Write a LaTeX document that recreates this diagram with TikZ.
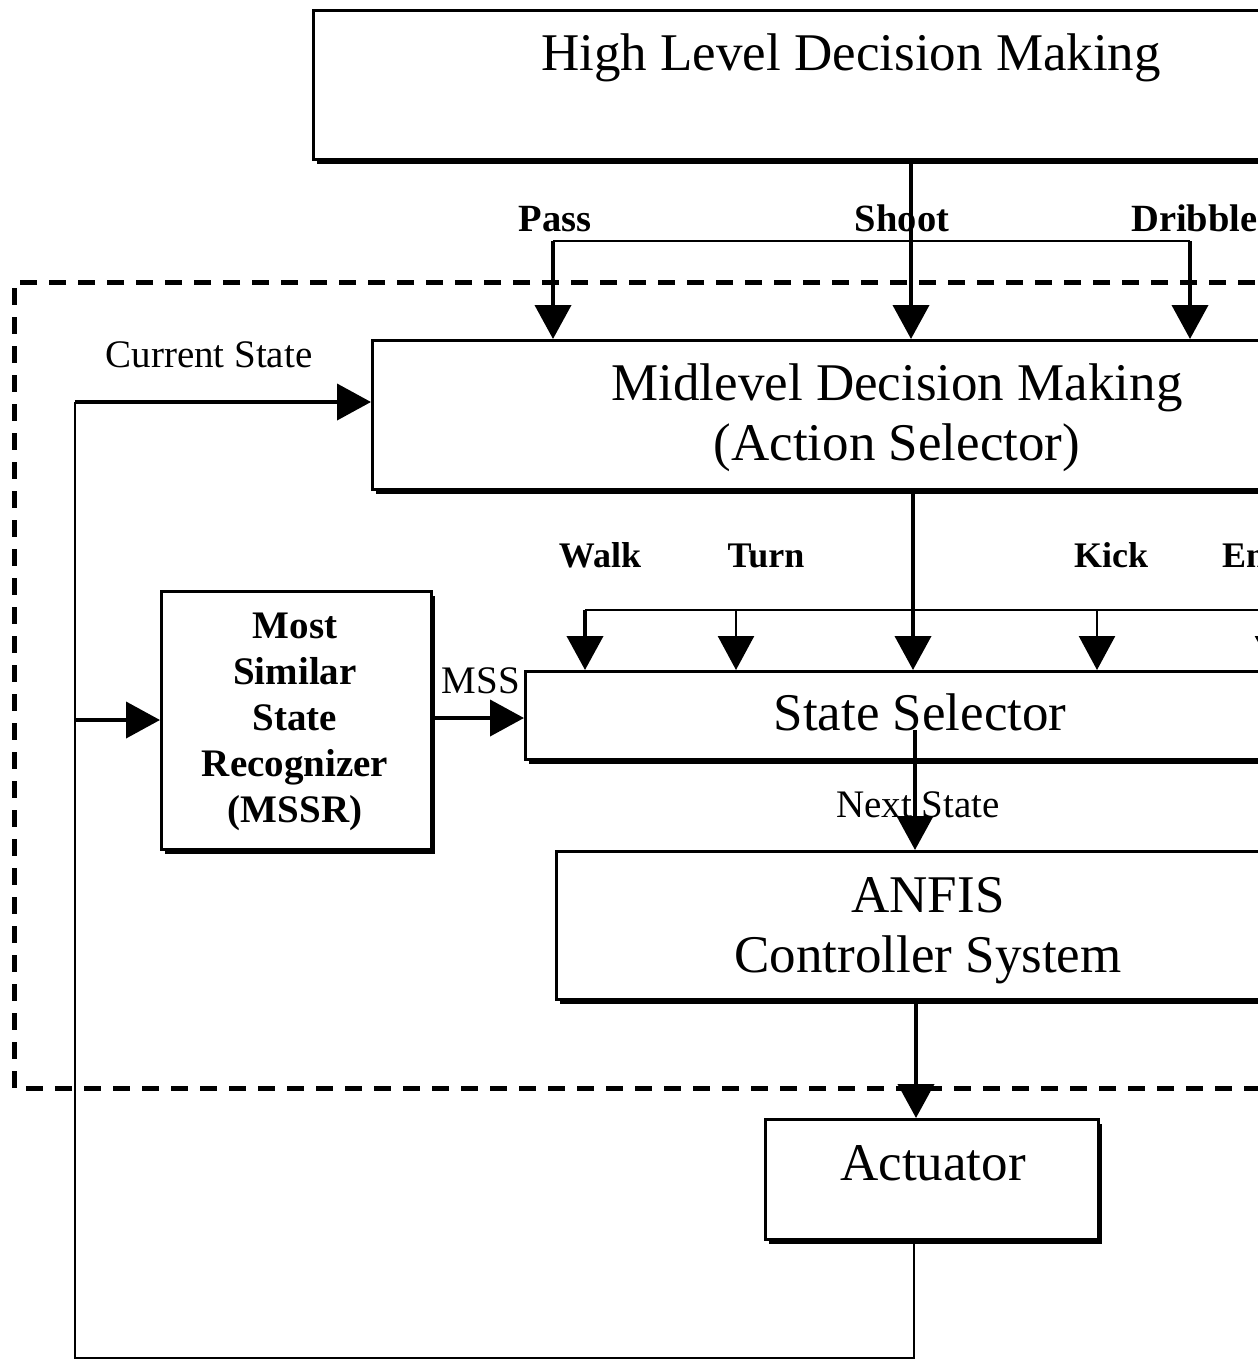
\documentclass[tikz,border=0pt]{standalone}
\usepackage{fontspec}
\setmainfont{Liberation Serif}
\usetikzlibrary{arrows.meta,shadows}
\begin{document}
\begin{tikzpicture}[x=1pt,y=-1pt,
  box/.style={draw, line width=2.5pt, fill=white, anchor=north west, inner sep=0pt,
    drop shadow={shadow xshift=4pt, shadow yshift=-5pt, opacity=1, fill=black}},
  big/.style={font=\fontsize{53}{60}\selectfont, anchor=base, inner sep=0pt},
  lab/.style={font=\fontsize{39}{44}\selectfont, anchor=base, inner sep=0pt},
  blab/.style={font=\bfseries\fontsize{36}{42}\selectfont, anchor=base, inner sep=0pt},
  tlab/.style={font=\bfseries\fontsize{38.5}{42}\selectfont, anchor=base, inner sep=0pt},
  mlab/.style={font=\bfseries\fontsize{39}{46}\selectfont, anchor=base, inner sep=0pt},
  tip/.style={-{Triangle[length=34pt,width=36pt]}},
  thick4/.style={line width=4pt},
  thin2/.style={line width=2.5pt},
  frame/.style={line width=5pt, dash pattern=on 17pt off 12pt}
]
\useasboundingbox (0,0) rectangle (1258,1360);
\clip (0,0) rectangle (1258,1360);
\fill[white] (0,0) rectangle (1258,1360);

% dashed frame
\draw[frame] (1400,282) -- (14,282) -- (14,1088) -- (1400,1088);

% boxes
\node[box, minimum width=1200pt, minimum height=149pt] (hl) at (312,9) {};
\node[box, minimum width=1200pt, minimum height=149pt] (mid) at (371,339) {};
\node[box, minimum width=270pt, minimum height=258pt] (mssr) at (160,590) {};
\node[box, minimum width=1200pt, minimum height=88pt] (ss) at (524,670) {};
\node[box, minimum width=1200pt, minimum height=148pt] (anfis) at (555,850) {};
\node[box, minimum width=333pt, minimum height=120pt] (act) at (764,1118) {};

% box texts
\node[big] (thl) at (851,70) {High Level Decision Making};
\node[big] (tmid1) at (897,400) {Midlevel Decision Making};
\node[big] (tmid2) at (897,460) {(Action Selector)};
\node[big] (tss) at (920,730) {State Selector};
\node[big] (tan1) at (928,912) {ANFIS};
\node[big] (tan2) at (928,972) {Controller System};
\node[big] (tact) at (933,1180) {Actuator};
\node[mlab] (m1) at (295,638) {Most};
\node[mlab] (m2) at (295,684) {Similar};
\node[mlab] (m3) at (295,730) {State};
\node[mlab] (m4) at (295,776) {Recognizer};
\node[mlab] (m5) at (295,822) {(MSSR)};

% coordinates
\coordinate (xp) at (553,241);
\coordinate (xs) at (911,241);
\coordinate (xd) at (1190,241);
\coordinate (bw) at (585,610);
\coordinate (bt) at (736,610);
\coordinate (bm) at (913,610);
\coordinate (bk) at (1097,610);
\coordinate (be) at (1273,610);
\coordinate (bend) at (1400,610);
\coordinate (nx) at (915,730);
\coordinate (ax) at (916,1000);
\coordinate (fb1) at (914,1358);
\coordinate (fb2) at (75,1358);
\coordinate (fb3) at (75,402);
\coordinate (fb4) at (75,720);

% top bus
\draw[thin2] (xp) -- (xd);
\draw[thick4, tip] (xp) -- (xp |- mid.north);
\draw[thick4, tip] (xd) -- (xd |- mid.north);
\draw[thick4, tip] (hl.south -| xs) -- (mid.north -| xs);
\node[tlab] (lpass) at (555,231) {Pass};
\node[tlab] (lshoot) at (902,231) {Shoot};
\node[tlab, anchor=base west] (ldrib) at (1131,231) {Dribble};

% second bus
\draw[thin2] (bw) -- (bend);
\draw[thick4, tip] (bw) -- (bw |- ss.north);
\draw[thin2, tip] (bt) -- (bt |- ss.north);
\draw[thin2, tip] (bk) -- (bk |- ss.north);
\draw[thin2, tip] (be) -- (be |- ss.north);
\draw[thick4, tip] (mid.south -| bm) -- (ss.north -| bm);
\node[blab] (lwalk) at (600,567) {Walk};
\node[blab] (lturn) at (766,567) {Turn};
\node[blab] (lkick) at (1111,567) {Kick};
\node[blab, anchor=base west] (len) at (1222,567) {En};

% state selector -> anfis
\draw[thick4, tip] (nx) -- (anfis.north -| nx);
\node[lab] (lnext) at (918,817) {Next State};

% anfis -> actuator
\draw[thick4, tip] (anfis.south -| ax) -- (act.north -| ax);

% feedback
\draw[thin2] (act.south -| fb1) -- (fb1) -- (fb2) -- (fb3);
\draw[thick4, tip] (fb3) -- (mid.west |- fb3);
\node[lab] (lcur) at (209,367) {Current State};
\draw[thick4, tip] (fb4) -- (mssr.west |- fb4);

% mssr -> state selector
\draw[thick4, tip] (mssr.east |- 0,718) -- (ss.west |- 0,718);
\node[lab] (lmss) at (481,693) {MSS};
\end{tikzpicture}
\end{document}
